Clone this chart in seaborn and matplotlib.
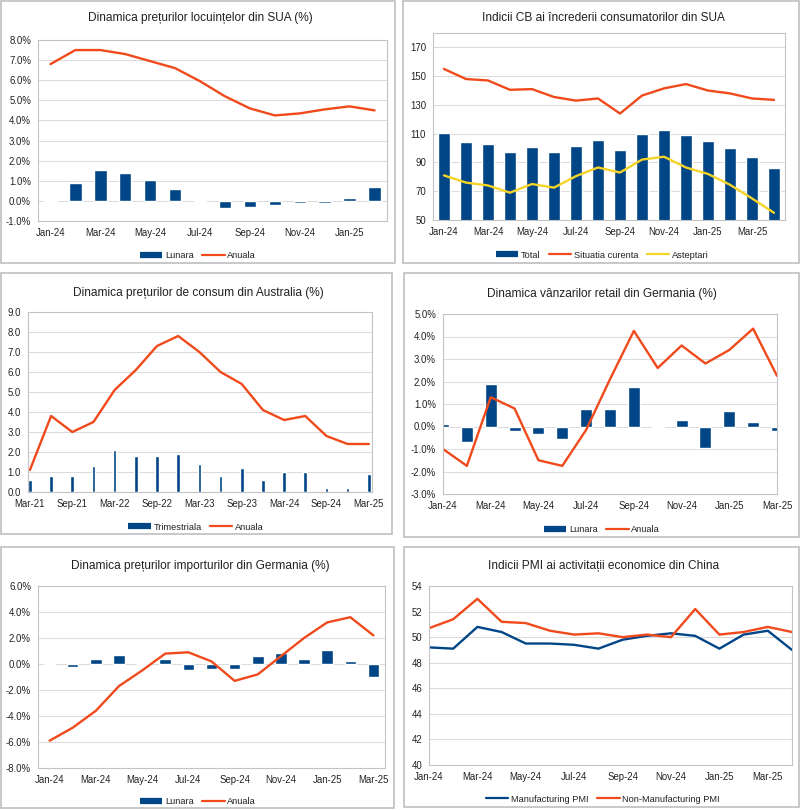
import matplotlib.pyplot as plt
import seaborn as sns
import numpy as np
from matplotlib.lines import Line2D
from matplotlib.patches import Rectangle
from matplotlib.ticker import FuncFormatter, MultipleLocator

# month labels
months = ['Jan-24', 'Feb-24', 'Mar-24', 'Apr-24', 'May-24', 'Jun-24', 'Jul-24', 'Aug-24',
          'Sep-24', 'Oct-24', 'Nov-24', 'Dec-24', 'Jan-25', 'Feb-25', 'Mar-25', 'Apr-25']
quarters = ['Mar-21', 'Jun-21', 'Sep-21', 'Dec-21', 'Mar-22', 'Jun-22', 'Sep-22', 'Dec-22',
            'Mar-23', 'Jun-23', 'Sep-23', 'Dec-23', 'Mar-24', 'Jun-24', 'Sep-24', 'Dec-24', 'Mar-25']

# US house prices (Jan-24 .. Feb-25)
us_house_monthly = [-0.05, 0.9, 1.55, 1.4, 1.05, 0.6, 0.02, -0.35, -0.3, -0.2, -0.1, -0.1, 0.12, 0.7]
us_house_annual = [6.8, 7.5, 7.5, 7.3, 6.95, 6.6, 5.95, 5.2, 4.6, 4.25, 4.35, 4.55, 4.7, 4.5]

# US CB consumer confidence (Jan-24 .. Apr-25)
cb_total = [110.5, 104.5, 103, 97, 101, 97.5, 101.5, 105.5, 99, 109.5, 112.5, 109, 105, 100, 94, 86]
cb_present = [155, 148, 147, 140.5, 141, 135.5, 133, 134.5, 124, 136.5, 141.5, 144.5, 140, 138, 134.5, 133.5]
cb_expect = [81, 76, 74, 69, 75, 72.5, 80.5, 86.5, 83, 92, 94, 86.5, 82, 74.5, 65, 55]

# Australia CPI (Mar-21 .. Mar-25)
au_quarterly = [0.6, 0.8, 0.8, 1.3, 2.1, 1.8, 1.8, 1.9, 1.4, 0.8, 1.2, 0.6, 1.0, 1.0, 0.2, 0.2, 0.9]
au_annual = [1.1, 3.8, 3.0, 3.5, 5.1, 6.1, 7.3, 7.8, 7.0, 6.0, 5.4, 4.1, 3.6, 3.8, 2.8, 2.4, 2.4]

# Germany retail sales (Jan-24 .. Mar-25)
de_retail_monthly = [0.1, -0.7, 1.9, -0.2, -0.35, -0.55, 0.8, 0.8, 1.75, -0.08, 0.28, -0.95, 0.7, 0.18, -0.18]
de_retail_annual = [-1.0, -1.75, 1.3, 0.8, -1.5, -1.75, -0.15, 2.1, 4.25, 2.6, 3.6, 2.8, 3.4, 4.35, 2.25]

# Germany import prices (Jan-24 .. Mar-25)
de_import_monthly = [0.0, -0.2, 0.35, 0.7, 0.0, 0.35, -0.45, -0.35, -0.35, 0.6, 0.85, 0.35, 1.1, 0.25, -1.0]
de_import_annual = [-5.9, -4.9, -3.6, -1.7, -0.5, 0.8, 0.9, 0.2, -1.3, -0.8, 0.6, 2.0, 3.2, 3.6, 2.2]

# China PMI (Jan-24 .. Apr-25)
cn_manuf = [49.2, 49.1, 50.8, 50.4, 49.5, 49.5, 49.4, 49.1, 49.8, 50.1, 50.3, 50.1, 49.1, 50.2, 50.5, 49.0]
cn_nonmanuf = [50.7, 51.4, 53.0, 51.2, 51.1, 50.5, 50.2, 50.3, 50.0, 50.2, 50.0, 52.2, 50.2, 50.4, 50.8, 50.4]

W, H = 800, 810
BLUE = '#004586'
ORANGE = '#f04a1c'
YELLOW = '#f5d327'
GRID = '#dadada'
FRAME = '#c4c4c4'
TXT = '#222222'

sns.set_theme(style="white")
plt.rcParams['font.family'] = ['Liberation Sans', 'DejaVu Sans']

fig = plt.figure(figsize=(W / 100, H / 100), dpi=100)
fig.patch.set_facecolor('white')


def px_axes(left, top, right, bottom):
    return fig.add_axes([left / W, 1 - bottom / H, (right - left) / W, (bottom - top) / H])


def frame(left, top, right, bottom):
    fig.add_artist(Rectangle((left / W, 1 - bottom / H), (right - left) / W, (bottom - top) / H,
                             transform=fig.transFigure, fill=False, ec=FRAME, lw=1.3))


def title(text, cx, cy):
    fig.text(cx / W, 1 - cy / H, text, ha='center', va='center', fontsize=8.6, color=TXT)


def style(ax, ylim, ystep, fmt, xlim, labels):
    ax.set_ylim(*ylim)
    ax.yaxis.set_major_locator(MultipleLocator(ystep))
    ax.yaxis.set_major_formatter(FuncFormatter(fmt))
    ax.set_xlim(*xlim)
    ax.set_xticks(range(0, len(labels), 2))
    ax.set_xticklabels(labels[::2])
    ax.yaxis.grid(True, color=GRID, lw=0.7)
    ax.xaxis.grid(False)
    ax.set_axisbelow(True)
    for s in ax.spines.values():
        s.set_color(FRAME)
        s.set_linewidth(0.8)
    ax.tick_params(axis='both', length=0, labelsize=6.9, colors=TXT, pad=5)
    ax.set_xlabel('')
    ax.set_ylabel('')


def add_legend(handles, names, cx, cy):
    fig.legend(handles, names, loc='center', bbox_to_anchor=(cx / W, 1 - cy / H),
               ncol=len(names), frameon=False, fontsize=6.7, handlelength=2.4,
               handletextpad=0.3, columnspacing=0.9, labelcolor=TXT)


def bar_h():
    return Line2D([], [], color=BLUE, lw=4.5, solid_capstyle='butt')


def line_h(c):
    return Line2D([], [], color=c, lw=1.6)


pct = lambda v, p: f'{v:.1f}%'
one = lambda v, p: f'{v:.1f}'
intf = lambda v, p: f'{v:.0f}'
LW = 1.7

# ---- Panel 1: US house prices
frame(1, 1, 395, 263)
title('Dinamica prețurilor locuințelor din SUA (%)', 200, 18)
ax = px_axes(38, 40, 387, 221)
x = np.arange(len(us_house_monthly))
sns.barplot(x=x, y=us_house_monthly, native_scale=True, width=0.5, color=BLUE, saturation=1, ax=ax)
sns.lineplot(x=x, y=us_house_annual, color=ORANGE, lw=LW, ax=ax)
style(ax, (-1, 8), 1, pct, (-0.5, 13.5), months[:14])
add_legend([bar_h(), line_h(ORANGE)], ['Lunara', 'Anuala'], 198, 256)

# ---- Panel 2: CB consumer confidence
frame(403, 1, 799, 263)
title('Indicii CB ai încrederii consumatorilor din SUA', 603, 18)
ax = px_axes(433, 33, 785, 220)
x = np.arange(len(cb_total))
sns.barplot(x=x, y=cb_total, native_scale=True, width=0.52, color=BLUE, saturation=1, ax=ax)
sns.lineplot(x=x, y=cb_present, color=ORANGE, lw=LW, ax=ax)
sns.lineplot(x=x, y=cb_expect, color=YELLOW, lw=LW, ax=ax)
style(ax, (50, 180), 20, intf, (-0.5, 15.5), months[:16])
ax.set_yticks(np.arange(50, 171, 20))
add_legend([bar_h(), line_h(ORANGE), line_h(YELLOW)], ['Total', 'Situatia curenta', 'Asteptari'], 602, 255)

# ---- Panel 3: Australia CPI
frame(1, 273, 392, 534)
title('Dinamica prețurilor de consum din Australia (%)', 198, 293)
ax = px_axes(28, 312, 372, 492)
x = np.arange(len(au_quarterly))
sns.barplot(x=x, y=au_quarterly, native_scale=True, width=0.17, color=BLUE, saturation=1, ax=ax)
sns.lineplot(x=x, y=au_annual, color=ORANGE, lw=LW, ax=ax)
style(ax, (0, 9), 1, one, (-0.09, 16.15), quarters)
add_legend([bar_h(), line_h(ORANGE)], ['Trimestriala', 'Anuala'], 196, 527)

# ---- Panel 4: Germany retail sales
frame(404, 273, 799, 537)
title('Dinamica vânzarilor retail din Germania (%)', 602, 294)
ax = px_axes(443, 314, 777, 494)
x = np.arange(len(de_retail_monthly))
sns.barplot(x=x, y=de_retail_monthly, native_scale=True, width=0.5, color=BLUE, saturation=1, ax=ax)
sns.lineplot(x=x, y=de_retail_annual, color=ORANGE, lw=LW, ax=ax)
style(ax, (-3, 5), 1, pct, (0, 14), months[:15])
add_legend([bar_h(), line_h(ORANGE)], ['Lunara', 'Anuala'], 602, 530)

# ---- Panel 5: Germany import prices
frame(1, 547, 394, 808)
title('Dinamica prețurilor importurilor din Germania (%)', 200, 566)
ax = px_axes(38, 586, 385, 768)
x = np.arange(len(de_import_monthly))
sns.barplot(x=x, y=de_import_monthly, native_scale=True, width=0.5, color=BLUE, saturation=1, ax=ax)
sns.lineplot(x=x, y=de_import_annual, color=ORANGE, lw=LW, ax=ax)
style(ax, (-8, 6), 2, pct, (-0.5, 14.5), months[:15])
add_legend([bar_h(), line_h(ORANGE)], ['Lunara', 'Anuala'], 198, 802)

# ---- Panel 6: China PMI
frame(404, 547, 799, 807)
title('Indicii PMI ai activitații economice din China', 604, 566)
ax = px_axes(429, 586, 792, 765)
x = np.arange(len(cn_manuf))
sns.lineplot(x=x, y=cn_manuf, color=BLUE, lw=LW, ax=ax)
sns.lineplot(x=x, y=cn_nonmanuf, color=ORANGE, lw=LW, ax=ax)
style(ax, (40, 54), 2, intf, (0, 15), months[:16])
add_legend([line_h(BLUE), line_h(ORANGE)], ['Manufacturing PMI', 'Non-Manufacturing PMI'], 603, 799)

fig.savefig('out.png', dpi=100)
